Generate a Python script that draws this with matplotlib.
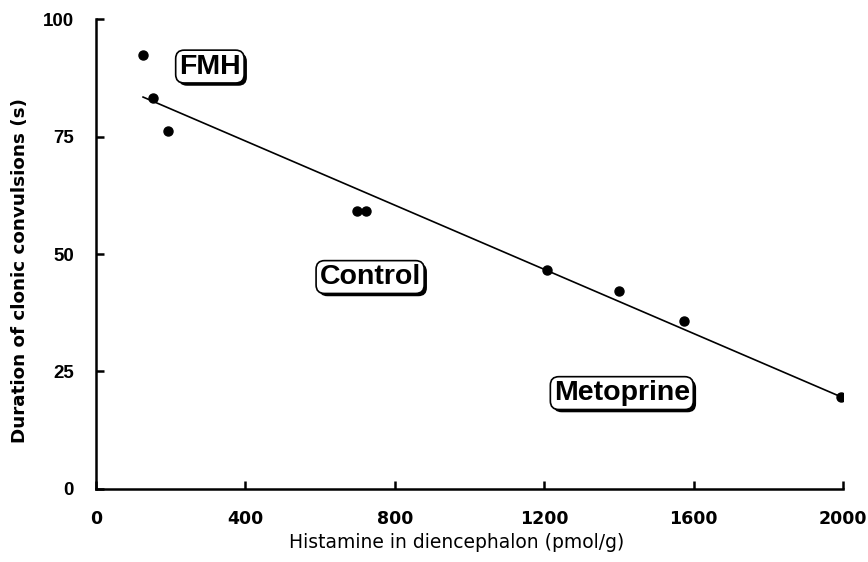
import matplotlib
matplotlib.use("Agg")
import matplotlib.pyplot as plt
import matplotlib.patheffects as pe
import numpy as np

# ── Data ──────────────────────────────────────────────────────────────────────
histamine = [126, 153, 193, 699, 723, 1207, 1400, 1574, 1995]
duration  = [92.3, 83.2, 76.2, 59.1, 59.1, 46.6, 42.1, 35.7, 19.6]

group_names = ["FMH", "Control", "Metoprine"]
group_x     = [305, 734, 1408]
group_y     = [89.9, 45.1, 20.4]

x_ticks = [0, 400, 800, 1200, 1600, 2000]
y_ticks = [0, 25, 50, 75, 100]

ARIAL = ["Liberation Sans", "DejaVu Sans"]
WIDE  = ["DejaVu Sans"]

fig = plt.figure(figsize=(8.68, 5.62), dpi=100)
ax = fig.add_axes([0.1106, 0.13, 0.8605, 0.836])

ax.plot(histamine, duration, "o", color="black", markersize=6.5, zorder=3)

# regression line over the data range
slope, icpt = np.polyfit(histamine, duration, 1)
xs = np.array([min(histamine), max(histamine)])
ax.plot(xs, slope * xs + icpt, color="black", lw=1.2, zorder=2)

for name, gx, gy in zip(group_names, group_x, group_y):
    t = ax.text(gx, gy, name, ha="center", va="center", fontsize=20.5,
                fontweight="bold", family=ARIAL,
                bbox=dict(boxstyle="round,pad=0.12,rounding_size=0.3",
                          fc="white", ec="black", lw=1.2))
    t.get_bbox_patch().set_path_effects([
        pe.SimplePatchShadow(offset=(2, -2), shadow_rgbFace="black", alpha=1),
        pe.Normal()])

ax.set_xlim(0, 2000)
ax.set_ylim(0, 100)
ax.set_xticks(x_ticks)
ax.set_yticks(y_ticks)
ax.set_xticklabels([str(v) for v in x_ticks], family=WIDE,
                   fontsize=12.5, fontweight="bold")
ax.set_yticklabels([str(v) for v in y_ticks], family=ARIAL,
                   fontsize=13.5, fontweight="bold")
ax.tick_params(direction="in", length=6, width=1.8)
ax.tick_params(axis="y", pad=16)
ax.tick_params(axis="x", pad=15)

for s in ["top", "right"]:
    ax.spines[s].set_visible(False)
for s in ["left", "bottom"]:
    ax.spines[s].set_linewidth(1.8)

ax.set_xlabel("Histamine in diencephalon (pmol/g)", family=WIDE,
              fontsize=13.5)
ax.set_ylabel("Duration of clonic convulsions (s)", family=WIDE,
              fontsize=13.2, fontweight="bold")
ax.xaxis.set_label_coords(0.483, -0.094)
ax.yaxis.set_label_coords(-0.09, 0.464)

fig.savefig("out.png", dpi=100, facecolor="white")
